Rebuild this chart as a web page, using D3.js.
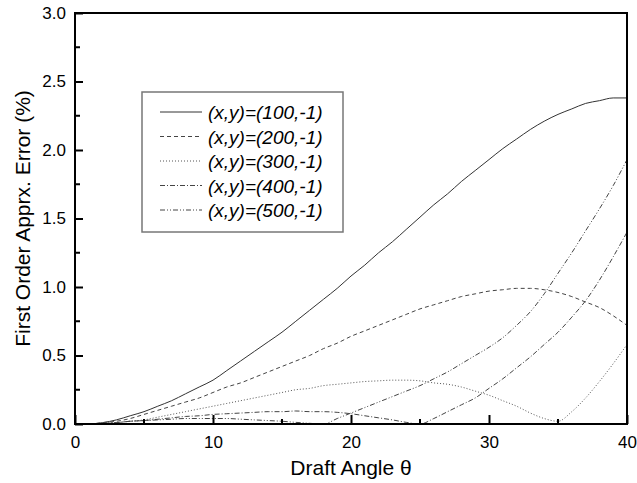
<!DOCTYPE html>
<html>
<head>
<meta charset="utf-8">
<script src="https://cdn.jsdelivr.net/npm/d3@7"></script>
<style>
  html, body { margin: 0; padding: 0; background: #fff; }
  svg { display: block; }
  text { font-family: "Liberation Sans", Arial, sans-serif; fill: #000; }
</style>
</head>
<body>
<svg id="chart" width="637" height="483"></svg>
<script>
// Draft angle samples (degrees)
const theta = d3.range(0, 41);

// First order approximation error (%) for each (x,y) point
const err100 = [0, 0, 0.01, 0.03, 0.06, 0.09, 0.13, 0.17, 0.22, 0.27, 0.32,
  0.39, 0.46, 0.53, 0.60, 0.67, 0.75, 0.83, 0.91, 0.99, 1.08,
  1.16, 1.25, 1.33, 1.42, 1.51, 1.60, 1.68, 1.77, 1.85, 1.93,
  2.01, 2.08, 2.15, 2.21, 2.26, 2.30, 2.34, 2.36, 2.38, 2.38];
const err200 = [0, 0, 0.01, 0.02, 0.04, 0.07, 0.10, 0.13, 0.16, 0.19, 0.23,
  0.27, 0.30, 0.34, 0.38, 0.42, 0.46, 0.50, 0.55, 0.59, 0.64,
  0.68, 0.72, 0.76, 0.80, 0.84, 0.87, 0.90, 0.93, 0.95, 0.97,
  0.98, 0.99, 0.99, 0.98, 0.96, 0.93, 0.89, 0.85, 0.79, 0.72];
const err300 = [0, 0, 0, 0.01, 0.02, 0.03, 0.05, 0.07, 0.09, 0.11, 0.13,
  0.15, 0.17, 0.19, 0.21, 0.23, 0.25, 0.26, 0.28, 0.29, 0.30,
  0.31, 0.315, 0.32, 0.32, 0.315, 0.30, 0.29, 0.27, 0.24, 0.21,
  0.17, 0.13, 0.08, 0.04, 0.02, 0.09, 0.19, 0.31, 0.44, 0.58];
const err400 = [0, 0, 0.005, 0.01, 0.02, 0.025, 0.035, 0.045, 0.055, 0.06, 0.07,
  0.075, 0.08, 0.085, 0.09, 0.09, 0.095, 0.09, 0.09, 0.085, 0.075,
  0.06, 0.045, 0.03, 0.012, 0.0, 0.04, 0.09, 0.14, 0.19, 0.26,
  0.33, 0.41, 0.49, 0.58, 0.67, 0.78, 0.90, 1.05, 1.22, 1.40];
const err500 = [0, 0, 0.005, 0.01, 0.02, 0.025, 0.03, 0.035, 0.04, 0.04, 0.04,
  0.04, 0.035, 0.03, 0.025, 0.02, 0.012, 0.005, 0.0, 0.04, 0.08,
  0.12, 0.16, 0.20, 0.24, 0.28, 0.33, 0.38, 0.44, 0.50, 0.56,
  0.63, 0.72, 0.82, 0.95, 1.10, 1.25, 1.41, 1.57, 1.74, 1.93];

const seriesNames = ["(x,y)=(100,-1)", "(x,y)=(200,-1)", "(x,y)=(300,-1)",
  "(x,y)=(400,-1)", "(x,y)=(500,-1)"];
const seriesValues = [err100, err200, err300, err400, err500];

const xTicks = [0, 10, 20, 30, 40];
const yTicks = [0.0, 0.5, 1.0, 1.5, 2.0, 2.5, 3.0];

// Line styles for the five series
const dashes = [null, "4,3", "1,2", "5,2,1,2", "5,2,1,2,1,2"];
const strokes = ["#333", "#444", "#555", "#444", "#444"];

const svg = d3.select("#chart");
const plotLeft = 75, plotRight = 627, plotTop = 13, plotBottom = 424;

const x = d3.scaleLinear().domain([0, 40]).range([plotLeft, plotRight]);
const y = d3.scaleLinear().domain([0, 3]).range([plotBottom, plotTop]);

// Curves
const line = d3.line()
  .x((d, i) => x(theta[i]))
  .y(d => y(d))
  .curve(d3.curveMonotoneX);

seriesValues.forEach((vals, k) => {
  svg.append("path")
    .datum(vals)
    .attr("fill", "none")
    .attr("stroke", strokes[k])
    .attr("stroke-width", 1)
    .attr("stroke-dasharray", dashes[k])
    .attr("d", line);
});

// Frame
svg.append("rect")
  .attr("x", plotLeft).attr("y", plotTop)
  .attr("width", plotRight - plotLeft).attr("height", plotBottom - plotTop)
  .attr("fill", "none").attr("stroke", "#000").attr("stroke-width", 2);

// Bottom axis: inward ticks
const xAxis = d3.axisBottom(x)
  .tickValues(xTicks)
  .tickFormat(d3.format("d"))
  .tickSize(-9)
  .tickPadding(12);
const gx = svg.append("g").attr("transform", `translate(0,${plotBottom})`).call(xAxis);
gx.select(".domain").remove();
gx.selectAll(".tick line").attr("stroke", "#000").attr("stroke-width", 2);
gx.selectAll(".tick text").style("font-size", "17px").attr("fill", "#000");
svg.append("g").attr("transform", `translate(0,${plotBottom})`)
  .selectAll("line").data(d3.range(5, 40, 10)).join("line")
  .attr("x1", d => x(d)).attr("x2", d => x(d))
  .attr("y1", 0).attr("y2", -5)
  .attr("stroke", "#000").attr("stroke-width", 2);

// Left axis: inward ticks
const yAxis = d3.axisLeft(y)
  .tickValues(yTicks)
  .tickFormat(d3.format(".1f"))
  .tickSize(-8)
  .tickPadding(9);
const gy = svg.append("g").attr("transform", `translate(${plotLeft},0)`).call(yAxis);
gy.select(".domain").remove();
gy.selectAll(".tick line").attr("stroke", "#000").attr("stroke-width", 2);
gy.selectAll(".tick text").style("font-size", "17px").attr("fill", "#000");
svg.append("g").attr("transform", `translate(${plotLeft},0)`)
  .selectAll("line").data(d3.range(0.25, 3, 0.5)).join("line")
  .attr("x1", 0).attr("x2", 5)
  .attr("y1", d => y(d)).attr("y2", d => y(d))
  .attr("stroke", "#000").attr("stroke-width", 2);

// Axis titles
svg.append("text")
  .attr("x", (plotLeft + plotRight) / 2).attr("y", 475)
  .attr("text-anchor", "middle")
  .style("font-size", "21px")
  .text("Draft Angle \u03B8");

svg.append("text")
  .attr("transform", `translate(30,${(plotTop + plotBottom) / 2}) rotate(-90)`)
  .attr("text-anchor", "middle")
  .style("font-size", "21px")
  .text("First Order Apprx. Error (%)");

// Legend
const legend = svg.append("g");
legend.append("rect")
  .attr("x", 142).attr("y", 92).attr("width", 201).attr("height", 140)
  .attr("fill", "#fff").attr("stroke", "#777").attr("stroke-width", 1.5);
seriesNames.forEach((name, k) => {
  const yy = 112 + k * 24.5;
  legend.append("line")
    .attr("x1", 160).attr("x2", 202).attr("y1", yy).attr("y2", yy)
    .attr("stroke", strokes[k]).attr("stroke-width", 1)
    .attr("stroke-dasharray", dashes[k]);
  legend.append("text")
    .attr("x", 208).attr("y", yy + 7)
    .style("font-size", "19px").style("font-style", "italic")
    .text(name);
});
</script>
</body>
</html>
